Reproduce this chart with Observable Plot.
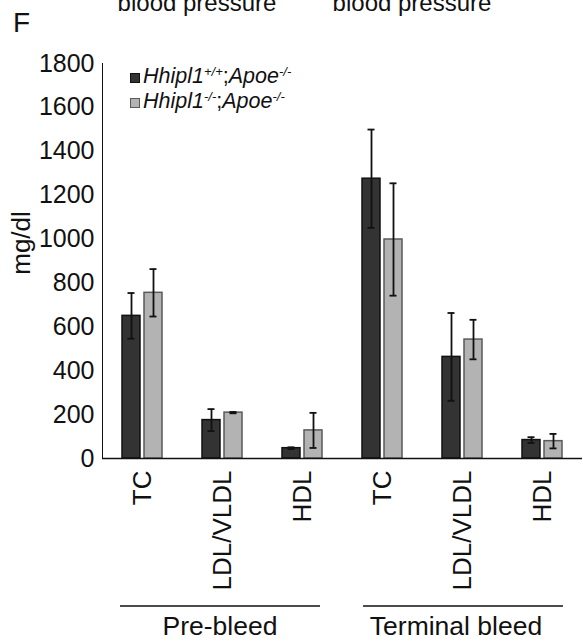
<!DOCTYPE html>
<html>
<head>
<meta charset="utf-8">
<script src="https://cdn.jsdelivr.net/npm/d3@7"></script>
<script src="https://cdn.jsdelivr.net/npm/@observablehq/plot@0.6"></script>
<style>
  html, body { margin: 0; padding: 0; background: #fff; }
  #wrap { position: relative; width: 583px; height: 641px; font-family: "Liberation Sans", Arial, sans-serif; }
  #wrap > svg.overlay { position: absolute; left: 0; top: 0; pointer-events: none; }
  #wrap g[aria-label^="fx-axis"] { font-size: 26px; }
</style>
</head>
<body>
<div id="wrap"></div>
<script>
// ---- data ----
const phases = ["Pre-bleed", "Terminal bleed"];
const categories = ["TC", "LDL/VLDL", "HDL"];
const genotypes = ["Hhipl1+/+;Apoe-/-", "Hhipl1-/-;Apoe-/-"];
// order: Pre TC, Pre LDL/VLDL, Pre HDL, Term TC, Term LDL/VLDL, Term HDL
const wtMean = [650, 175, 47, 1275, 463, 84];
const wtSD   = [104, 50, 4, 224, 200, 13];
const koMean = [755, 209, 128, 998, 542, 79];
const koSD   = [108, 3, 80, 256, 90, 33];
const yTicks = [0, 200, 400, 600, 800, 1000, 1200, 1400, 1600, 1800];
const colors = ["#333333", "#b3b3b3"];
const strokes = ["#111111", "#5a5a5a"];

const groupKeys = [];
phases.forEach(p => categories.forEach(c => groupKeys.push(p + "|" + c)));

const rows = [];
groupKeys.forEach((k, i) => {
  rows.push({group: k, genotype: genotypes[0], mean: wtMean[i], sd: wtSD[i]});
  rows.push({group: k, genotype: genotypes[1], mean: koMean[i], sd: koSD[i]});
});

const W = 583, H = 641;
const chart = Plot.plot({
  width: W,
  height: H,
  marginTop: 63,
  marginBottom: 183,
  marginLeft: 100,
  marginRight: 0,
  style: {fontFamily: '"Liberation Sans", Arial, sans-serif', fontSize: "25px", color: "#111", background: "#fff"},
  fx: {
    domain: groupKeys, padding: 0, axis: "bottom", label: null,
    tickRotate: -90, tickSize: 0, tickPadding: 12,
    tickFormat: d => d.split("|")[1]
  },
  x: {domain: genotypes, paddingInner: 0.174, paddingOuter: 0.837, axis: null},
  y: {domain: [0, 1800], ticks: yTicks, tickSize: 0, tickPadding: 8, line: true, label: null, tickFormat: d => String(d)},
  color: {domain: genotypes, range: colors},
  marks: [
    Plot.barY(rows, {fx: "group", x: "genotype", y: "mean", fill: "genotype",
      stroke: d => d.genotype === genotypes[0] ? strokes[0] : strokes[1], strokeWidth: 1.5}),
    Plot.ruleX(rows, {fx: "group", x: "genotype", y1: d => d.mean - d.sd, y2: d => d.mean + d.sd, stroke: "#111", strokeWidth: 1.8}),
    Plot.tickY(rows, {fx: "group", x: "genotype", y: d => d.mean + d.sd, stroke: "#111", strokeWidth: 1.8, insetLeft: 5.5, insetRight: 5.5}),
    Plot.tickY(rows, {fx: "group", x: "genotype", y: d => d.mean - d.sd, stroke: "#111", strokeWidth: 1.8, insetLeft: 5.5, insetRight: 5.5}),
    Plot.ruleY([0], {stroke: "#111", strokeWidth: 1.6})
  ]
});

const wrap = document.getElementById("wrap");
wrap.appendChild(chart);

// ---- overlay annotations (panel letter, clipped header, legend, y label, group brackets) ----
const ns = "http://www.w3.org/2000/svg";
const ov = document.createElementNS(ns, "svg");
ov.setAttribute("class", "overlay");
ov.setAttribute("width", W);
ov.setAttribute("height", H);
ov.style.fontFamily = '"Liberation Sans", Arial, sans-serif';
ov.style.fill = "#111";
function el(tag, attrs, text) {
  const e = document.createElementNS(ns, tag);
  for (const k in attrs) e.setAttribute(k, attrs[k]);
  if (text != null) e.textContent = text;
  ov.appendChild(e);
  return e;
}
el("text", {x: 13, y: 32, "font-size": 28}, "F");
el("text", {x: 197, y: 11, "font-size": 24, "text-anchor": "middle"}, "blood pressure");
el("text", {x: 412, y: 11, "font-size": 24, "text-anchor": "middle"}, "blood pressure");

// legend
const legendY = [83, 108];
genotypes.forEach((g, i) => {
  el("rect", {x: 130.5, y: legendY[i] - 9.5, width: 9, height: 9, fill: colors[i], stroke: strokes[i], "stroke-width": 1});
  const t = el("text", {x: 143, y: legendY[i], "font-size": 21.5});
  const m = g.match(/^(\w+)([^;]+);(\w+)(.+)$/);
  const parts = [[m[1], "italic", false], [m[2], "italic", true], [";", "normal", false], [m[3], "italic", false], [m[4], "italic", true]];
  parts.forEach(([s, st, sup]) => {
    const ts = document.createElementNS(ns, "tspan");
    ts.setAttribute("font-style", st);
    if (sup) { ts.setAttribute("font-size", 13); ts.setAttribute("baseline-shift", "super"); }
    ts.textContent = s;
    t.appendChild(ts);
  });
});

// y label
el("text", {transform: "translate(30,243) rotate(-90)", "font-size": 26, "text-anchor": "middle"}, "mg/dl");

// group brackets
const brackets = [[120, 320, 220], [363, 563, 456]];
phases.forEach((p, i) => {
  const [a, b, c] = brackets[i];
  el("line", {x1: a, x2: b, y1: 606, y2: 606, stroke: "#111", "stroke-width": 1.6});
  el("text", {x: c, y: 635, "font-size": 26.5, "text-anchor": "middle"}, p);
});
wrap.appendChild(ov);
</script>
</body>
</html>
